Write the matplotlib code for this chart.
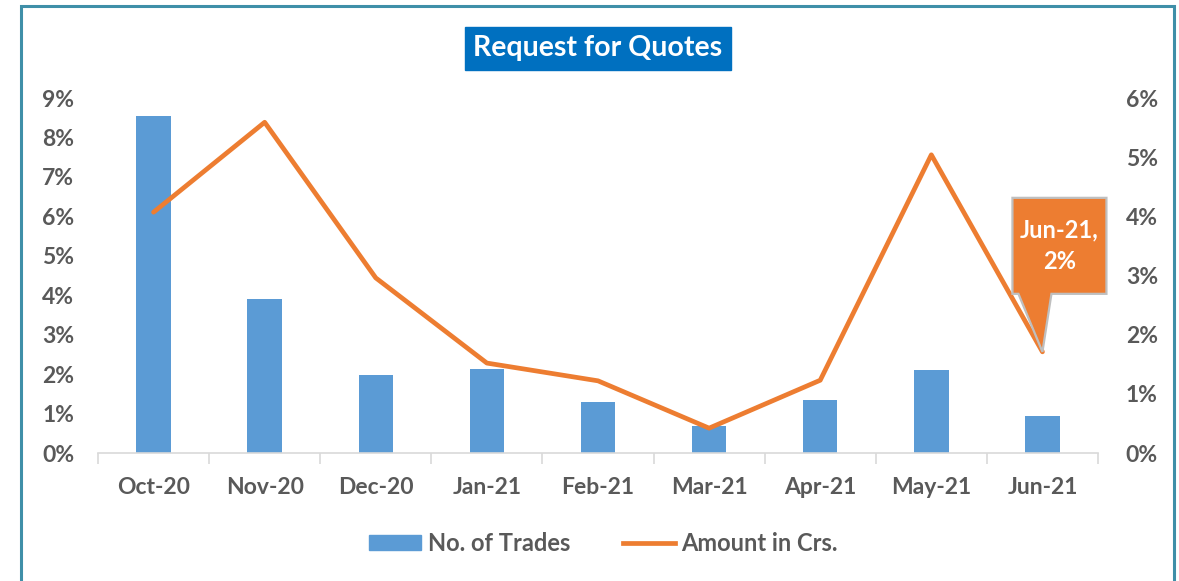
import numpy as np
import matplotlib
matplotlib.use("Agg")
import matplotlib.pyplot as plt
from matplotlib.patches import Rectangle, Polygon, Patch
from matplotlib.lines import Line2D
from matplotlib import transforms

# ===================== DATA =====================
months = ["Oct-20", "Nov-20", "Dec-20", "Jan-21", "Feb-21", "Mar-21", "Apr-21", "May-21", "Jun-21"]
trades_pct = [8.54, 3.90, 1.98, 2.13, 1.29, 0.68, 1.34, 2.10, 0.94]   # left axis
amount_pct = [4.07, 5.59, 2.96, 1.52, 1.22, 0.42, 1.23, 5.04, 1.71]   # right axis
left_ticks = list(range(0, 10))
right_ticks = list(range(0, 7))

# ===================== STYLE =====================
BLUE = "#5B9BD5"
ORANGE = "#ED7D31"
GREY = "#595959"
plt.rcParams["font.family"] = ["Lato", "DejaVu Sans"]
plt.rcParams["font.weight"] = "bold"

fig = plt.figure(figsize=(11.79, 5.81), dpi=100)
ax = fig.add_axes([0.0831, 0.2203, 0.8482, 0.611])
ax2 = ax.twinx()

x = np.arange(len(months))
ax.bar(x, trades_pct, width=0.31, color=BLUE, zorder=2)
ax2.plot(x, amount_pct, color=ORANGE, lw=3.4, solid_capstyle="round", zorder=3)

ax.set_xlim(-0.5, len(months) - 0.5)
ax.set_ylim(0, 9)
ax2.set_ylim(0, 6)
ax.set_yticks(left_ticks)
ax.set_yticklabels([f"{t}%" for t in left_ticks], fontweight="bold")
ax2.set_yticks(right_ticks)
ax2.set_yticklabels([f"{t}%" for t in right_ticks], fontweight="bold")

# category labels centred, ticks at boundaries
ax.set_xticks(x)
ax.set_xticklabels(months, fontweight="bold")
ax.set_xticks(np.arange(-0.5, len(months)), minor=True)
ax.tick_params(axis="x", which="major", length=0, pad=17, labelsize=16.5, labelcolor=GREY)
ax.tick_params(axis="x", which="minor", length=8, width=1.2, color="#D9D9D9")
ax.tick_params(axis="y", length=0, pad=17, labelsize=16.5, labelcolor=GREY)
ax2.tick_params(axis="y", length=0, pad=20, labelsize=16.5, labelcolor=GREY)

for a in (ax, ax2):
    for s in ("top", "left", "right"):
        a.spines[s].set_visible(False)
ax.spines["bottom"].set_color("#D9D9D9")
ax.spines["bottom"].set_linewidth(1.2)
ax2.spines["bottom"].set_visible(False)

# title in a blue box
fig.text(0.507, 0.917, "Request for Quotes", ha="center", va="center",
         fontsize=20.5, color="white", fontweight="bold",
         bbox=dict(boxstyle="square,pad=0.3", fc="#0070C0", ec="#0070C0"))

# callout on the last point (shape in pixel offsets from the point)
px, py = ax2.transData.transform((x[-1], amount_pct[-1]))
off = transforms.Affine2D().translate(px, py)
callout = [(-30, 154), (64, 154), (64, 58), (9, 58), (0, 0), (-24, 58), (-30, 58)]
ax2.add_patch(Polygon(callout, closed=True, fc=ORANGE, ec="#BFBFBF", lw=1.6,
                      transform=off, clip_on=False, zorder=5))
ax2.annotate(f"{months[-1]},\n{round(amount_pct[-1])}%",
             xy=(x[-1], amount_pct[-1]), xycoords="data",
             xytext=(17, 106), textcoords="offset pixels",
             ha="center", va="center", fontsize=17, color="white", fontweight="bold",
             linespacing=1.45, zorder=6)

# legend
handles = [Patch(fc=BLUE, ec=BLUE), Line2D([], [], color=ORANGE, lw=3.4)]
fig.legend(handles, ["No. of Trades", "Amount in Crs."], loc="center",
           bbox_to_anchor=(0.512, 0.065), ncol=2, frameon=False,
           prop=dict(size=17, weight="bold"), labelcolor=GREY,
           handlelength=2.2, handleheight=0.6, columnspacing=2.2,
           handletextpad=0.3)

# outer border
fig.patches.append(Rectangle((0.018, -0.05), 0.978, 1.04, transform=fig.transFigure,
                             fill=False, ec="#3F8FA8", lw=2.2))

fig.savefig("out.png", dpi=100)
